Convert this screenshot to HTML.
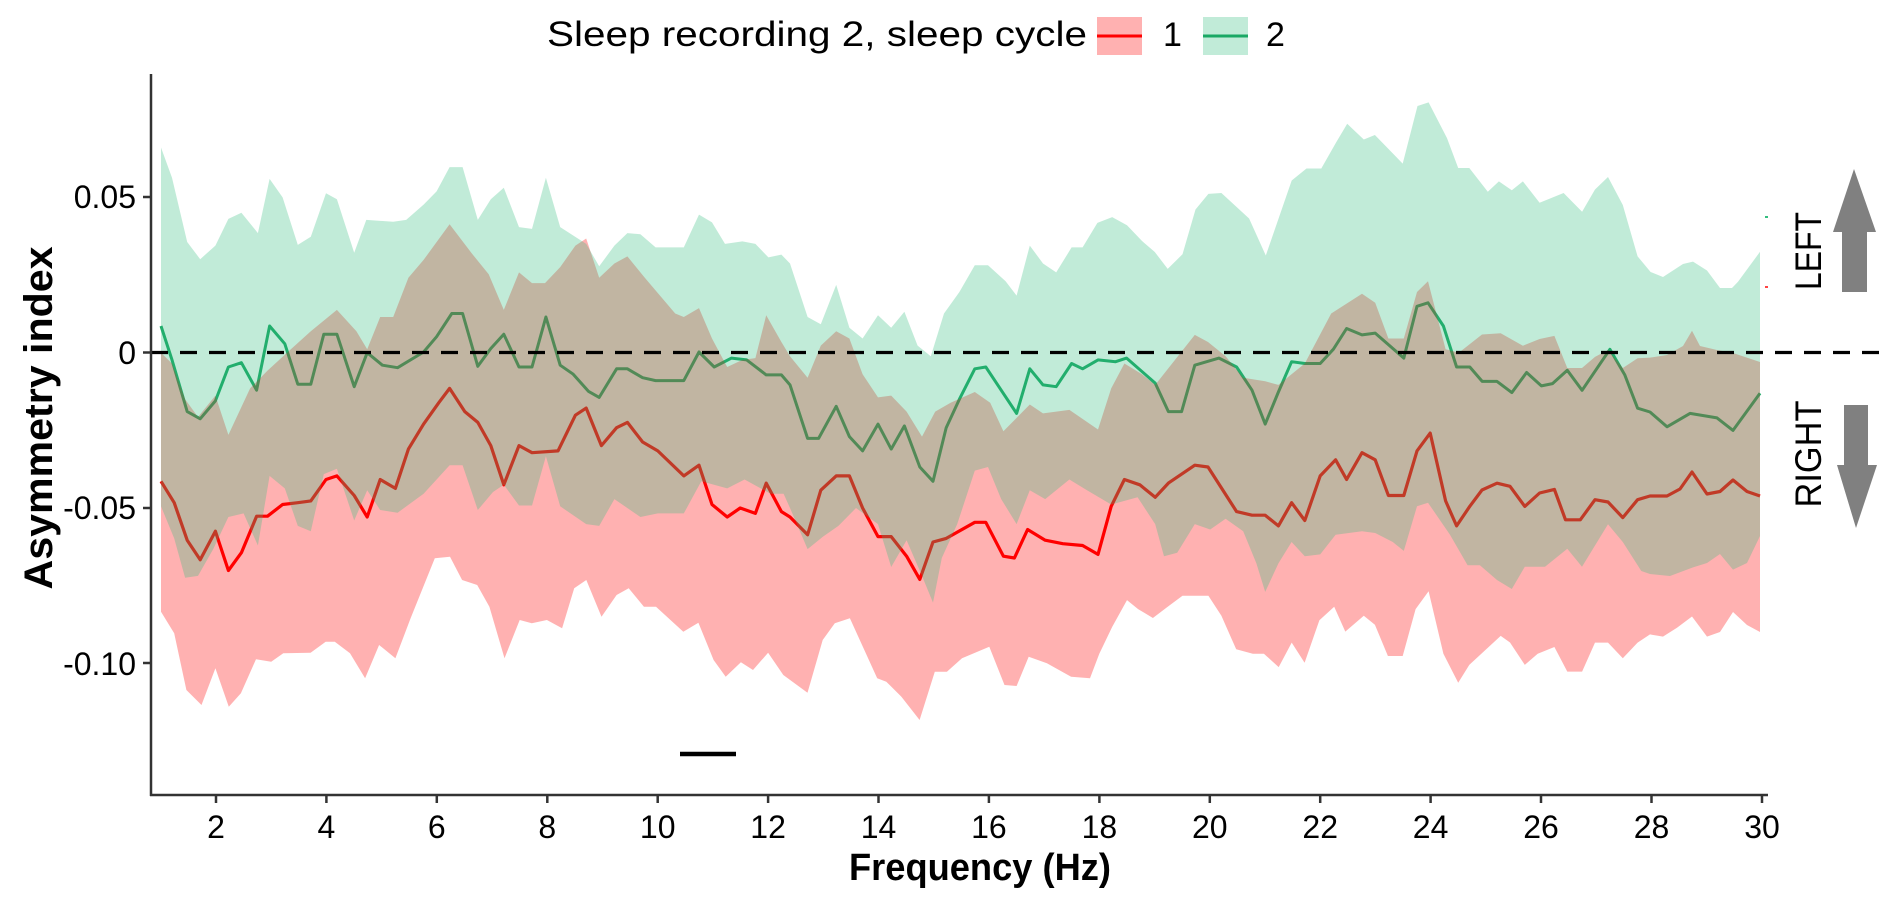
<!DOCTYPE html>
<html><head><meta charset="utf-8"><style>
html,body{margin:0;padding:0;background:#fff;}
svg{display:block;font-family:"Liberation Sans",Arial,sans-serif;}
</style></head><body>
<svg width="1888" height="902" viewBox="0 0 1888 902" xmlns="http://www.w3.org/2000/svg">
<polyline fill="none" stroke="#ff0000" stroke-width="3.2" stroke-linejoin="round" points="161,481.3 174.2,502.7 187.2,540.2 200.2,559.8 215.4,531.2 228.4,570.5 241.4,552.7 256.6,516.2 267.5,516.2 282.6,504.5 297.8,502.7 310.8,500.9 326,479.5 336.9,475.9 354.2,495.5 367.2,517 380.2,479.5 395.4,488.4 408.4,449.1 423.6,424.1 438.8,402.7 449.6,388.4 464.8,411.6 477.8,422.4 490.8,445.6 503.8,484.8 519,445.6 532,452.7 558,450.9 575.4,415.2 586.2,408.1 601.4,445.6 616.6,427.7 627.4,422.4 642.6,442 657.8,450.9 683.8,475.9 699,465.2 712,504.5 727.2,517 740.2,508 755.4,513.4 766.2,483.1 781.4,511.6 790,517 807.6,534.8 820.8,490.2 836.2,475.9 849.4,475.9 862.6,508 878,536.6 891.2,536.6 906.6,556.2 919.8,579.4 933,542 946.2,538.4 974.8,522.3 985.8,522.3 1003.4,556.2 1014.4,558 1027.6,529.5 1045.2,540.2 1062.8,543.7 1082.6,545.5 1098,554.4 1111.2,506.3 1124.4,479.5 1139.8,484.8 1155.2,497.3 1168.4,483.1 1194.8,465.2 1208,467 1236.6,511.6 1252,515.2 1265.2,515.2 1278.4,525.9 1291.6,502.7 1304.8,520.5 1320.2,475.9 1335.6,459.8 1346.6,479.5 1362,452.7 1375.2,459.8 1388.4,495.5 1403.8,495.5 1417,450.9 1430.2,433.1 1445.6,500.9 1456.6,525.9 1469.8,506.3 1482,490 1497,483.2 1510,486.3 1524.8,506.4 1539.6,493 1554.4,489.4 1565.5,519.8 1580.3,519.8 1595,499.7 1608,502 1622.8,517.6 1637.6,499.7 1650,496 1667,496 1680,489 1692,472 1707,494 1720,491.5 1733,480 1747,491.5 1760,496"/>
<polyline fill="none" stroke="#1aa865" stroke-width="3" stroke-linejoin="round" points="161,326 172,359.9 187.2,411.6 200.2,418.8 215.4,400.9 228.4,367 241.4,362.7 256.6,390.2 269.6,326 284.8,343.8 297.8,384.2 310.8,384.2 323.8,334.2 336.9,334.2 354.2,386.7 367.2,352.7 382.4,365.2 397.6,367.7 423.6,352 436.6,336.7 451.8,313.5 462.6,313.5 477.8,366.3 490.8,348.5 503.8,334.2 519,367 532,367 545.9,317 560.2,365.2 573.2,374.2 588.4,391.3 599.2,397.4 616.6,368.8 627.4,368.8 642.6,377.7 655.6,380.6 683.8,380.6 699,352 714.2,367 731.5,358.1 746.7,359.9 766.2,374.9 781.4,374.9 790,384.9 807.6,438.4 818.6,438.4 836.2,406.3 849.4,436.6 862.6,450.9 878,424.1 891.2,449.1 904.4,425.9 919.8,467 933,481.3 946.2,427.7 959.4,399.2 974.8,368.8 985.8,367 1016.6,413.4 1029.8,368.8 1043,384.9 1056.2,386.7 1071.6,363.5 1082.6,368.8 1098,359.9 1115.6,361.7 1126.6,358.1 1155.2,383.1 1168.4,411.6 1181.6,411.6 1194.8,365.2 1219,358.1 1236.6,367 1252,390.2 1265.2,424.1 1278.4,392 1291.6,361.7 1304.8,363.5 1320.2,363.5 1333.4,349.2 1346.6,328.5 1362,334.9 1375.2,333.1 1403.8,358.1 1417,306.3 1428,302.8 1443.4,326 1456.6,367 1469.8,367 1482.2,381.4 1497,381.4 1511.8,392.6 1526.6,372.5 1541.4,385.9 1552.5,383.6 1567.3,370.3 1582.1,390.3 1609.9,349.3 1624.7,374.7 1637.6,408.2 1650,412 1667,426.8 1690,413.4 1717,417.9 1733,430.4 1760,393.3"/>
<polygon fill="#ff0000" fill-opacity="0.306" points="161,352.7 172,363.5 185.1,399.2 198,417 215.4,395.6 228.4,434.9 250.1,388.4 267.5,370.6 287,352.7 310.8,331.3 336.9,309.9 356.4,331.3 367.2,349.2 380.2,317 393.2,317 408.4,277.8 423.6,259.9 449.6,224.2 471.3,252.8 488.7,274.2 503.8,309.9 519,272.4 532,283.1 545,283.1 560.2,267.1 575.4,245.6 586.2,238.5 599.2,277.8 614.4,263.5 627.4,256.4 644.8,277.8 660,295.6 675.2,313.5 683.8,317 699,308.1 712,338.5 727.2,367 742.4,359.9 755.4,358.1 766.2,315.3 781.4,342 790,356.3 807.6,377.7 820.8,345.6 836.2,331.3 849.4,338.5 862.6,374.2 878,397.4 891.2,395.6 906.6,411.6 922,436.6 935.2,411.6 950.6,402.7 974.8,392 990.2,402.7 1003.4,431.3 1029.8,404.5 1043,413.4 1069.4,409.9 1098,429.5 1111.2,388.4 1124.4,363.5 1142,374.2 1155.2,384.9 1194.8,334.9 1208,342 1225.6,356.3 1243.2,377.7 1265.2,381.3 1278.4,384.9 1304.8,363.5 1331.2,313.5 1362,293.8 1375.2,302.8 1388.4,338.5 1403.8,338.5 1417,292 1428,281.3 1445.6,349.2 1458.8,352.7 1482,334.5 1500.7,333.2 1522.9,345.7 1539.6,339 1554.4,335.9 1567.3,368 1582,368 1595,356.9 1608,350 1622.8,368 1637.6,358.2 1650,357.6 1667,355 1683,346 1692,330.8 1700,346 1717,350 1733,353 1760,362 1760,632 1747,625 1733,612 1720,632 1707,636.6 1692,616.5 1677,627.7 1663,636.6 1650,634.4 1637.6,642.6 1622.8,658.3 1608,642.6 1595,642.6 1582.1,671.6 1567.3,671.6 1554.4,647 1537.7,653.7 1524.8,664.9 1510,642.5 1500.7,635.9 1469.3,664.9 1458.2,682.7 1443.4,653.7 1428.6,591.2 1415.6,609.1 1402.7,656 1387.9,656 1374.9,624.7 1363.8,615.8 1345.3,631.6 1334.2,606.8 1319.4,620.2 1304.6,662.7 1291.7,642.6 1278.7,667.1 1263.9,653.7 1252.8,653.7 1236.2,649.3 1221.4,615.8 1208.4,595.7 1182.5,595.7 1167.7,606.8 1152.9,618 1138.1,609.1 1127,600.1 1112.2,626.9 1099.3,653.7 1090,678.3 1071.1,676.7 1046.9,663.3 1028.7,656.7 1016.6,686 1004.5,685 989.3,646.7 962,658.3 946.9,671.7 934.8,671.7 919.6,720 901.4,696.7 886.3,681.7 877.2,678.3 849.9,618.3 834.8,623.3 822.7,640 807.5,692.7 783.3,675 768.1,652.7 753,670 740.9,662.3 725.7,676.7 713.6,660 698.4,622.7 683.3,631.7 656,606.7 643.9,606.7 628.7,588.3 616.6,595 601.5,616.7 586.3,580 574.2,588.3 562.1,628.3 546.9,620 531.8,623.3 519.7,620 504.5,658.3 489.4,606.7 477.2,585 462.1,580 450,556.7 434.8,558.3 410.6,618.3 395.4,658.3 379.1,645 365.1,678.3 350,653.3 334.8,641.7 325.7,641.7 310.6,652.7 283.3,653.3 271.2,661.7 256,659.3 240.9,693.3 228.8,706.7 215.4,668.3 201.5,705 186.4,690 174.2,633.3 161,611.7"/>
<polygon fill="rgb(52,190,127)" fill-opacity="0.306" points="161,147.5 172,177.8 187.2,242 200.2,259.2 215.4,245.6 228.4,218.9 241.4,212.8 257.9,233.1 269.6,178.9 282.6,197.4 297.8,244.9 310.8,236.7 326,193.2 336.9,199.2 354.2,252.8 366.3,219.9 393.2,221.7 406.2,219.9 423.6,204.6 436.6,191.4 449.6,167.1 462.6,167.1 477.8,219.9 490.8,199.2 503.8,187.8 519,227.1 532,228.9 545.9,177.8 560.2,227.1 586.2,243.9 599.2,266.3 614.4,245.6 627.4,233.1 640.4,234.2 655.6,247.4 683.8,247.4 699,214.6 712,222.4 725,243.9 742.4,241.4 755.4,243.9 768.4,257.4 781.4,254.6 790,263.5 807.6,317 820.8,324.2 836.2,284.9 849.4,327.8 862.6,338.5 878,315.3 891.2,327.8 904.4,311.7 917.6,345.6 930.8,356.3 944,313.5 959.4,292 974.8,265.3 988,265.3 1005.6,281.3 1016.6,295.6 1029.8,245.6 1043,263.5 1056.2,272.4 1071.6,247.4 1082.6,247.4 1097.4,222.9 1112.2,217.1 1127,225.2 1141.8,240.8 1154.8,252 1167.7,268.9 1182.5,254.2 1195.5,209.5 1208.4,193.9 1221.4,193 1249.1,218.5 1265.8,255.5 1291.7,180.5 1306.5,168.5 1321.3,168.5 1336,142.6 1347.2,123.8 1363.8,139.5 1374.9,135 1402.7,163.6 1417.5,106 1428.6,102.4 1447,138.1 1458.2,168 1469.3,168 1487.8,191.7 1498.9,181.4 1511.8,190.3 1522.9,181.4 1539.6,202.8 1563.6,193 1582.1,211.8 1595,189.5 1608,177 1622.8,205 1637.6,256.4 1650.6,272 1663,277 1683,264 1693,261.6 1707,270.5 1720,288 1732,288 1738,281.7 1760,251.8 1760,536 1747,563 1733,569.6 1720,554 1707,563 1693,567.4 1670,576 1650,574 1641.3,571 1622.8,542 1608,524.3 1582,566.7 1567.3,548.8 1545,566.7 1524.8,566.7 1511.8,589 1497,580 1479.9,565.2 1467.6,565.2 1450,534.8 1428,502.7 1417,506.3 1403.8,550.9 1392.8,542 1375.2,533 1362,531.2 1335.6,534.8 1320.2,554.4 1304.8,556.2 1291.6,542 1278.4,563.4 1265.2,591.9 1256.4,563.4 1243.2,531.2 1225.6,518.7 1210.2,529.5 1194.8,524.1 1177.2,552.7 1164,556.2 1155.2,524.1 1137.6,497.3 1111.2,504.5 1087,490.2 1069.4,479.5 1045.2,499.1 1029.8,490.2 1016.6,524.1 1001.2,499.1 988,467 974.8,470.6 957.2,524.1 941.8,558 933,602.6 922,575.9 906.6,540.2 891.2,567 878,524.1 856,508 838.4,525.9 823,536.6 807.6,549.1 790,508 783.6,493.8 770.6,493.8 744.6,479.5 727.2,488.4 701.3,481.3 683.8,513.4 657.8,513.4 640.4,517 614.4,499.1 599.2,525.9 586.2,524.1 560.2,506.3 545.9,456.3 532,505.5 519,505.5 503.8,484.8 493,492 477.8,510 462.6,465.2 449.6,465.2 423.6,493.8 397.6,512.7 380.2,510 367.2,490.2 354.2,520.5 336.9,468.8 323.8,474.1 310.8,531.2 297.8,525.9 284.8,488.4 269.6,475.9 257.9,545.5 243.6,513.4 228.4,517 213.2,549.1 198,575.9 185.1,577.7 174.2,538.4 161,506.3"/>
<rect x="1765" y="216" width="3" height="2" fill="#34be7f"/>
<rect x="1765" y="286" width="3" height="2" fill="#ff4444"/>
<line x1="151" y1="352.5" x2="1888" y2="352.5" stroke="#000" stroke-width="3.2" stroke-dasharray="17,12"/>
<line x1="680" y1="754" x2="736" y2="754" stroke="#000" stroke-width="4.5"/>
<g stroke="#333" stroke-width="2.5" fill="none">
<line x1="151" y1="74" x2="151" y2="796"/>
<line x1="150" y1="795" x2="1768" y2="795"/>
<line x1="143" y1="197" x2="151" y2="197"/>
<line x1="143" y1="352.5" x2="151" y2="352.5"/>
<line x1="143" y1="508" x2="151" y2="508"/>
<line x1="143" y1="663" x2="151" y2="663"/>
<line x1="216" y1="795" x2="216" y2="803"/><line x1="326.4" y1="795" x2="326.4" y2="803"/><line x1="436.8" y1="795" x2="436.8" y2="803"/><line x1="547.3" y1="795" x2="547.3" y2="803"/><line x1="657.7" y1="795" x2="657.7" y2="803"/><line x1="768.1" y1="795" x2="768.1" y2="803"/><line x1="878.5" y1="795" x2="878.5" y2="803"/><line x1="988.9" y1="795" x2="988.9" y2="803"/><line x1="1099.4" y1="795" x2="1099.4" y2="803"/><line x1="1209.8" y1="795" x2="1209.8" y2="803"/><line x1="1320.2" y1="795" x2="1320.2" y2="803"/><line x1="1430.6" y1="795" x2="1430.6" y2="803"/><line x1="1541" y1="795" x2="1541" y2="803"/><line x1="1651.5" y1="795" x2="1651.5" y2="803"/><line x1="1762" y1="795" x2="1762" y2="803"/>
</g>
<g font-size="32" fill="#000" text-anchor="end">
<text x="136" y="208">0.05</text>
<text x="136" y="364">0</text>
<text x="136" y="519">-0.05</text>
<text x="136" y="675">-0.10</text>
</g>
<g font-size="32" fill="#000" text-anchor="middle">
<text x="216" y="838">2</text><text x="326.4" y="838">4</text><text x="436.8" y="838">6</text><text x="547.3" y="838">8</text><text x="657.7" y="838">10</text><text x="768.1" y="838">12</text><text x="878.5" y="838">14</text><text x="988.9" y="838">16</text><text x="1099.4" y="838">18</text><text x="1209.8" y="838">20</text><text x="1320.2" y="838">22</text><text x="1430.6" y="838">24</text><text x="1541" y="838">26</text><text x="1651.5" y="838">28</text><text x="1762" y="838">30</text>
</g>
<text x="980" y="880" font-size="38" font-weight="bold" text-anchor="middle" textLength="262" lengthAdjust="spacingAndGlyphs">Frequency (Hz)</text>
<text transform="translate(52,418) rotate(-90)" font-size="40" font-weight="bold" text-anchor="middle" textLength="343" lengthAdjust="spacingAndGlyphs">Asymmetry index</text>
<text x="547" y="46" font-size="35" textLength="540" lengthAdjust="spacingAndGlyphs">Sleep recording 2, sleep cycle</text>
<rect x="1097" y="17" width="45" height="38" fill="#ffb1b1"/>
<line x1="1097" y1="36" x2="1142" y2="36" stroke="#ff0000" stroke-width="3"/>
<text x="1163" y="46" font-size="34">1</text>
<rect x="1203" y="17" width="45" height="38" fill="#c1ebd8"/>
<line x1="1203" y1="36" x2="1248" y2="36" stroke="#1aa865" stroke-width="3"/>
<text x="1266" y="46" font-size="34">2</text>
<polygon fill="#808080" points="1854,169 1876,232 1867,232 1867,292 1842,292 1842,232 1833,232"/>
<polygon fill="#808080" points="1844,405 1868,405 1868,465 1877,465 1856,528 1837,465 1844,465"/>
<text transform="translate(1821,251) rotate(-90)" font-size="37" text-anchor="middle" textLength="78" lengthAdjust="spacingAndGlyphs">LEFT</text>
<text transform="translate(1821,454) rotate(-90)" font-size="37" text-anchor="middle" textLength="107" lengthAdjust="spacingAndGlyphs">RIGHT</text>
</svg>
</body></html>
